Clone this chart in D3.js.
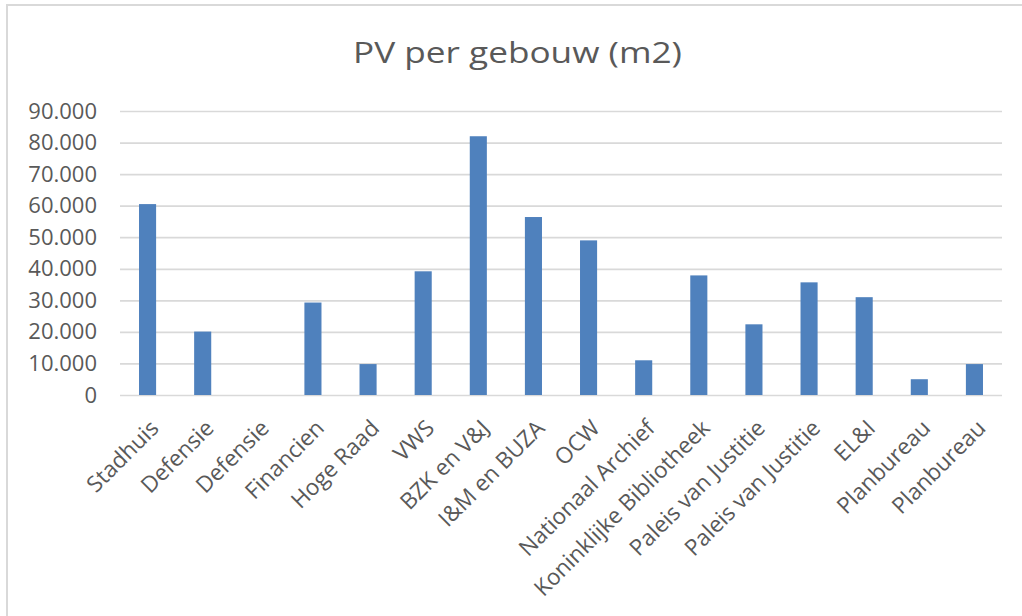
<!DOCTYPE html>
<html>
<head>
<meta charset="utf-8">
<script src="https://cdn.jsdelivr.net/npm/d3@7"></script>
<style>
  html, body { margin: 0; padding: 0; background: #fff; }
  svg { display: block; }
  text { font-family: "Open Sans", "Noto Sans", sans-serif; fill: #595959; }
</style>
</head>
<body>
<svg id="chart" width="1022" height="616"></svg>
<script>
const title = "PV per gebouw (m2)";
const categories = ["Stadhuis","Defensie","Defensie","Financien","Hoge Raad","VWS","BZK en V&J","I&M en BUZA","OCW","Nationaal Archief","Koninklijke Bibliotheek","Paleis van Justitie","Paleis van Justitie","EL&I","Planbureau","Planbureau"];
const values = [60500, 20100, 0, 29300, 9800, 39200, 82000, 56400, 49000, 11000, 37900, 22400, 35700, 31000, 5000, 9800];
const yTicks = [0, 10000, 20000, 30000, 40000, 50000, 60000, 70000, 80000, 90000];

const svg = d3.select("#chart");
const W = 1022, H = 616;
const plot = { left: 120, right: 1002, top: 111, bottom: 395 };

// chart frame (top and left edges visible)
svg.append("line").attr("x1", 6).attr("x2", W).attr("y1", 5).attr("y2", 5)
  .attr("stroke", "#d9d9d9").attr("stroke-width", 2);
svg.append("line").attr("x1", 7).attr("x2", 7).attr("y1", 4).attr("y2", H)
  .attr("stroke", "#d9d9d9").attr("stroke-width", 2);

const nl = d3.formatLocale({ decimal: ",", thousands: ".", grouping: [3], currency: ["€", ""] });
const fmt = nl.format(",");

const x = d3.scaleBand()
  .domain(d3.range(categories.length))
  .range([plot.left, plot.right])
  .paddingInner(0.69)
  .paddingOuter(0.345);

const y = d3.scaleLinear().domain([0, 90000]).range([plot.bottom, plot.top]);

// gridlines
svg.append("g")
  .attr("transform", `translate(${plot.left},0)`)
  .call(d3.axisLeft(y).tickValues(yTicks).tickSize(-(plot.right - plot.left)).tickFormat(""))
  .call(g => g.select(".domain").remove())
  .call(g => g.selectAll(".tick line").attr("stroke", "#d9d9d9").attr("stroke-width", 1.7));

// y axis labels
svg.append("g")
  .attr("transform", `translate(97,0)`)
  .call(d3.axisLeft(y).tickValues(yTicks).tickSize(0).tickPadding(0).tickFormat(fmt))
  .call(g => g.select(".domain").remove())
  .call(g => g.selectAll("text")
    .attr("font-size", 22).attr("fill", "#595959")
    .style("font-family", '"Open Sans", "Noto Sans", sans-serif'));

// bars
svg.append("g").selectAll("rect")
  .data(values)
  .join("rect")
  .attr("x", (d, i) => x(i))
  .attr("width", x.bandwidth())
  .attr("y", d => y(d))
  .attr("height", d => y(0) - y(d))
  .attr("fill", "#4f81bd");

// x axis labels
const xAxis = d3.axisBottom(x).tickSize(0).tickFormat(i => categories[i]);
svg.append("g")
  .attr("transform", `translate(0,${plot.bottom})`)
  .call(xAxis)
  .call(g => g.select(".domain").remove())
  .call(g => g.selectAll("text")
    .attr("font-size", 22.5).attr("fill", "#595959")
    .style("font-family", '"Open Sans", "Noto Sans", sans-serif')
    .attr("text-anchor", "end")
    .attr("x", 0).attr("y", 0).attr("dy", "0.35em")
    .attr("transform", "translate(7,29) rotate(-45)"));

// title
svg.append("text")
  .attr("x", 517.5).attr("y", 63)
  .attr("text-anchor", "middle")
  .attr("font-size", 29)
  .attr("textLength", 329)
  .attr("lengthAdjust", "spacingAndGlyphs")
  .text(title);
</script>
</body>
</html>
